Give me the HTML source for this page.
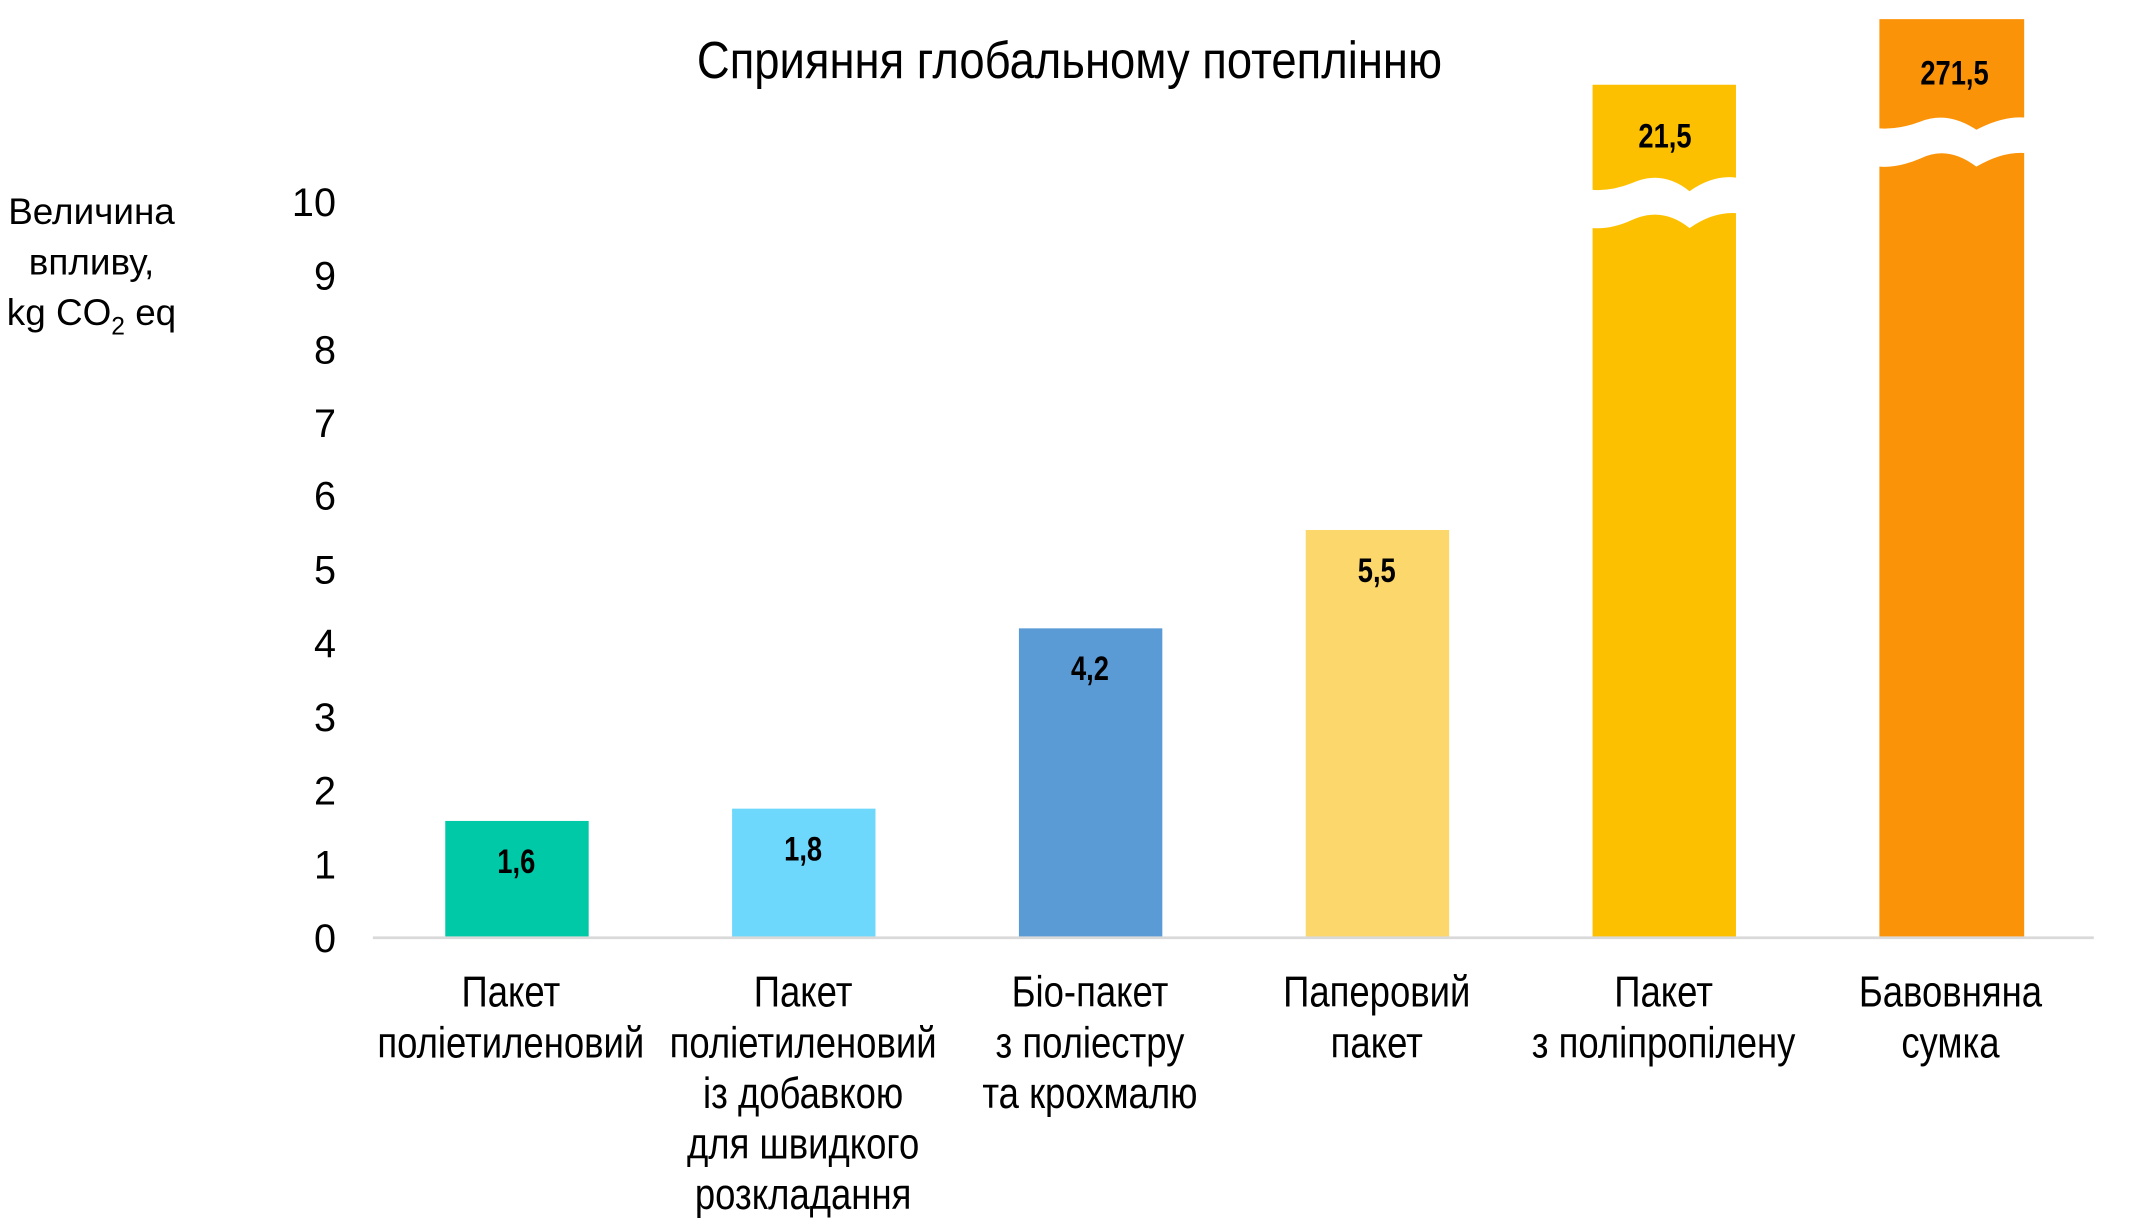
<!DOCTYPE html>
<html><head><meta charset="utf-8"><style>
html,body{margin:0;padding:0;background:#fff;}
svg{display:block;}
text{font-family:"Liberation Sans",sans-serif;fill:#000;}
</style></head><body>
<svg width="2143" height="1228" viewBox="0 0 1569 899" preserveAspectRatio="none" xmlns="http://www.w3.org/2000/svg">
<rect width="1569" height="899" fill="#fff"/>
<text transform="translate(783,57) scale(0.875,1)" text-anchor="middle" font-size="38">Сприяння глобальному потеплінню</text>
<g font-size="27" text-anchor="middle">
<text x="67" y="164">Величина</text>
<text x="67" y="201">впливу,</text>
<text x="67" y="238">kg CO<tspan font-size="18" dy="7">2</tspan><tspan dy="-7"> eq</tspan></text>
</g>
<g font-size="29" text-anchor="end">
<text x="246" y="697">0</text>
<text x="246" y="643">1</text>
<text x="246" y="589">2</text>
<text x="246" y="535">3</text>
<text x="246" y="481">4</text>
<text x="246" y="427">5</text>
<text x="246" y="373">6</text>
<text x="246" y="320">7</text>
<text x="246" y="266">8</text>
<text x="246" y="212">9</text>
<text x="246" y="158">10</text>
</g>
<rect x="326" y="601" width="105" height="85" fill="#00c9a7"/>
<rect x="536" y="592" width="105" height="94" fill="#6dd8fc"/>
<rect x="746" y="460" width="105" height="226" fill="#5b9bd5"/>
<rect x="956" y="388" width="105" height="298" fill="#fcd76b"/>
<path d="M1166,62 H1271 V130 Q1254,128 1237,140 Q1217,124 1195,134 Q1180,140 1166,139 Z" fill="#fdc000"/>
<path d="M1166,167 Q1180,168 1195,161 Q1217,151 1237,167 Q1254,155 1271,156 V686 H1166 Z" fill="#fdc000"/>
<path d="M1376,14 H1482 V86 Q1466,85 1447,95 Q1426,81 1406,89 Q1390,95 1376,94 Z" fill="#fb9309"/>
<path d="M1376,122 Q1390,123 1406,116 Q1426,106 1447,122 Q1466,111 1482,112 V686 H1376 Z" fill="#fb9309"/>
<line x1="273" y1="686.5" x2="1533" y2="686.5" stroke="#d9d9d9" stroke-width="2"/>
<g font-size="25" font-weight="bold" text-anchor="middle">
<text transform="translate(378,639) scale(0.8,1)">1,6</text>
<text transform="translate(588,630) scale(0.8,1)">1,8</text>
<text transform="translate(798,498) scale(0.8,1)">4,2</text>
<text transform="translate(1008,426) scale(0.8,1)">5,5</text>
<text transform="translate(1219,108) scale(0.8,1)">21,5</text>
<text transform="translate(1431,62) scale(0.8,1)">271,5</text>
</g>
<g font-size="32" text-anchor="middle">
<text transform="translate(374,737) scale(0.835,1)">Пакет</text>
<text transform="translate(374,774) scale(0.835,1)">поліетиленовий</text>
<text transform="translate(588,737) scale(0.835,1)">Пакет</text>
<text transform="translate(588,774) scale(0.835,1)">поліетиленовий</text>
<text transform="translate(588,811) scale(0.835,1)">із добавкою</text>
<text transform="translate(588,848) scale(0.835,1)">для швидкого</text>
<text transform="translate(588,885) scale(0.835,1)">розкладання</text>
<text transform="translate(798,737) scale(0.835,1)">Біо-пакет</text>
<text transform="translate(798,774) scale(0.835,1)">з поліестру</text>
<text transform="translate(798,811) scale(0.835,1)">та крохмалю</text>
<text transform="translate(1008,737) scale(0.835,1)">Паперовий</text>
<text transform="translate(1008,774) scale(0.835,1)">пакет</text>
<text transform="translate(1218,737) scale(0.835,1)">Пакет</text>
<text transform="translate(1218,774) scale(0.835,1)">з поліпропілену</text>
<text transform="translate(1428,737) scale(0.835,1)">Бавовняна</text>
<text transform="translate(1428,774) scale(0.835,1)">сумка</text>
</g>
</svg>
</body></html>
